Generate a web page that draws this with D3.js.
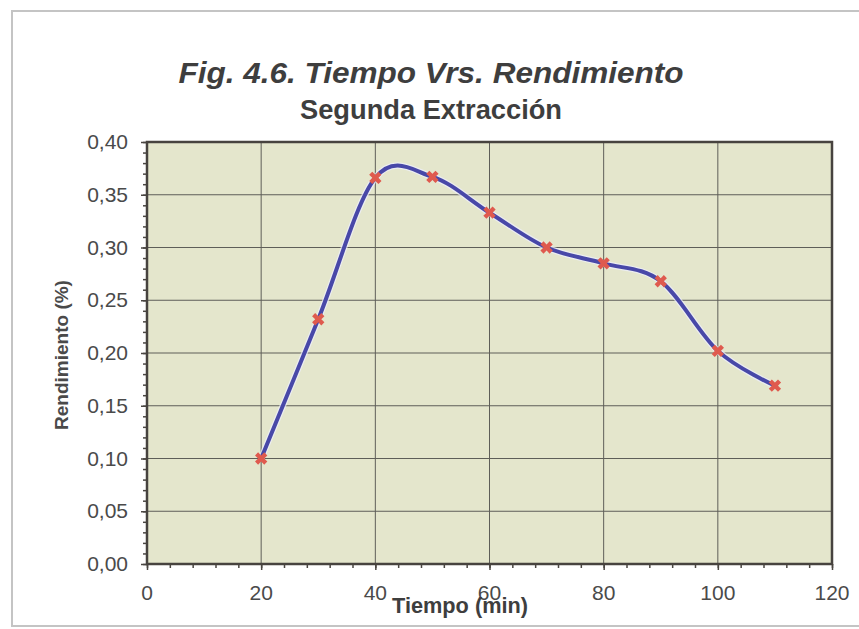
<!DOCTYPE html>
<html>
<head>
<meta charset="utf-8">
<script src="https://cdn.jsdelivr.net/npm/d3@7"></script>
<style>
  body { margin: 0; background: #fff; }
  svg { display: block; }
</style>
</head>
<body>
<div id="chart"></div>
<script>
// data
const tiempo = [20, 30, 40, 50, 60, 70, 80, 90, 100, 110];
const rendimiento = [0.100, 0.232, 0.366, 0.367, 0.333, 0.300, 0.285, 0.268, 0.202, 0.169];
const xTicks = [0, 20, 40, 60, 80, 100, 120];
const yTicks = [0, 0.05, 0.10, 0.15, 0.20, 0.25, 0.30, 0.35, 0.40];

const width = 859, height = 629;
const plot = { left: 147, right: 832, top: 142, bottom: 564 };
const font = 'Liberation Sans, Arial, sans-serif';

const svg = d3.select('#chart')
  .append('svg')
  .attr('width', width)
  .attr('height', height);

// outer chart frame
svg.append('rect')
  .attr('x', 12).attr('y', 11)
  .attr('width', 860).attr('height', 615)
  .attr('fill', 'none')
  .attr('stroke', '#c4c4c4')
  .attr('stroke-width', 2);

const x = d3.scaleLinear().domain([0, 120]).range([plot.left, plot.right]);
const y = d3.scaleLinear().domain([0, 0.40]).range([plot.bottom, plot.top]);

// plot area background
svg.append('rect')
  .attr('x', plot.left).attr('y', plot.top)
  .attr('width', plot.right - plot.left)
  .attr('height', plot.bottom - plot.top)
  .attr('fill', '#e4e6cc');

// gridlines
svg.append('g')
  .selectAll('line.hgrid')
  .data(yTicks.slice(1, -1))
  .join('line')
  .attr('x1', plot.left).attr('x2', plot.right)
  .attr('y1', d => y(d)).attr('y2', d => y(d))
  .attr('stroke', '#5e5e58')
  .attr('stroke-width', 1);

svg.append('g')
  .selectAll('line.vgrid')
  .data(xTicks.slice(1, -1))
  .join('line')
  .attr('x1', d => x(d)).attr('x2', d => x(d))
  .attr('y1', plot.top).attr('y2', plot.bottom)
  .attr('stroke', '#5e5e58')
  .attr('stroke-width', 1);

// axes (major + minor ticks)
const xAxis = d3.axisBottom(x).tickValues(xTicks).tickSize(6).tickFormat('');
const xMinor = d3.axisBottom(x).tickValues(d3.range(0, 121, 4)).tickSize(4).tickFormat('');
const yAxis = d3.axisLeft(y).tickValues(yTicks).tickSize(6).tickFormat('');
const yMinor = d3.axisLeft(y).tickValues(d3.range(0, 41).map(d => d / 100)).tickSize(4).tickFormat('');

[xMinor, xAxis].forEach(ax => {
  svg.append('g')
    .attr('transform', `translate(0,${plot.bottom})`)
    .call(ax)
    .call(g => g.select('.domain').remove())
    .call(g => g.selectAll('line').attr('stroke', '#4a4642').attr('stroke-width', 1.5));
});
[yMinor, yAxis].forEach(ax => {
  svg.append('g')
    .attr('transform', `translate(${plot.left},0)`)
    .call(ax)
    .call(g => g.select('.domain').remove())
    .call(g => g.selectAll('line').attr('stroke', '#4a4642').attr('stroke-width', 1.5));
});

// plot frame
svg.append('rect')
  .attr('x', plot.left).attr('y', plot.top)
  .attr('width', plot.right - plot.left)
  .attr('height', plot.bottom - plot.top)
  .attr('fill', 'none')
  .attr('stroke', '#47433f')
  .attr('stroke-width', 2.5);

// tick labels
const fmt = d => d.toFixed(2).replace('.', ',');
svg.append('g')
  .selectAll('text')
  .data(yTicks)
  .join('text')
  .attr('x', 128)
  .attr('y', d => y(d) + 7)
  .attr('text-anchor', 'end')
  .style('font-family', font)
  .style('font-size', '21px')
  .style('fill', '#4a4a4a')
  .text(fmt);

svg.append('g')
  .selectAll('text')
  .data(xTicks)
  .join('text')
  .attr('x', d => x(d))
  .attr('y', 600)
  .attr('text-anchor', 'middle')
  .style('font-family', font)
  .style('font-size', '21px')
  .style('fill', '#4a4a4a')
  .text(d => d);

// series line (smoothed like the spreadsheet)
const pts = tiempo.map((t, i) => [t, rendimiento[i]]);
const line = d3.line()
  .x(d => x(d[0]))
  .y(d => y(d[1]))
  .curve(d3.curveCardinal.tension(0));

svg.append('path')
  .datum(pts)
  .attr('d', line)
  .attr('fill', 'none')
  .attr('stroke', '#eef0ff')
  .attr('stroke-width', 6.5)
  .attr('opacity', 0.7);

svg.append('path')
  .datum(pts)
  .attr('d', line)
  .attr('fill', 'none')
  .attr('stroke', '#4848a8')
  .attr('stroke-width', 4)
  .attr('stroke-linejoin', 'round');

// markers (x crosses)
const cross = d3.symbol().type(d3.symbolCross).size(95);
svg.append('g')
  .selectAll('path')
  .data(pts)
  .join('path')
  .attr('d', cross)
  .attr('transform', d => `translate(${x(d[0])},${y(d[1])}) rotate(45)`)
  .attr('fill', '#df5a4e');

// titles
svg.append('text')
  .attr('x', 431).attr('y', 83)
  .attr('text-anchor', 'middle')
  .attr('textLength', 505)
  .attr('lengthAdjust', 'spacingAndGlyphs')
  .style('font-family', font)
  .style('font-size', '29px')
  .style('font-weight', 'bold')
  .style('font-style', 'italic')
  .style('fill', '#3e3e3e')
  .text('Fig. 4.6. Tiempo Vrs. Rendimiento');

svg.append('text')
  .attr('x', 431).attr('y', 119)
  .attr('text-anchor', 'middle')
  .attr('textLength', 262)
  .attr('lengthAdjust', 'spacingAndGlyphs')
  .style('font-family', font)
  .style('font-size', '27px')
  .style('font-weight', 'bold')
  .style('fill', '#3e3e3e')
  .text('Segunda Extracción');

svg.append('text')
  .attr('x', 460).attr('y', 613)
  .attr('text-anchor', 'middle')
  .attr('textLength', 136)
  .attr('lengthAdjust', 'spacingAndGlyphs')
  .style('font-family', font)
  .style('font-size', '22px')
  .style('font-weight', 'bold')
  .style('fill', '#3e3e3e')
  .text('Tiempo (min)');

svg.append('text')
  .attr('transform', 'translate(68,355) rotate(-90)')
  .attr('text-anchor', 'middle')
  .style('font-family', font)
  .style('font-size', '19px')
  .style('font-weight', 'bold')
  .style('fill', '#4a4a4a')
  .text('Rendimiento (%)');
</script>
</body>
</html>
